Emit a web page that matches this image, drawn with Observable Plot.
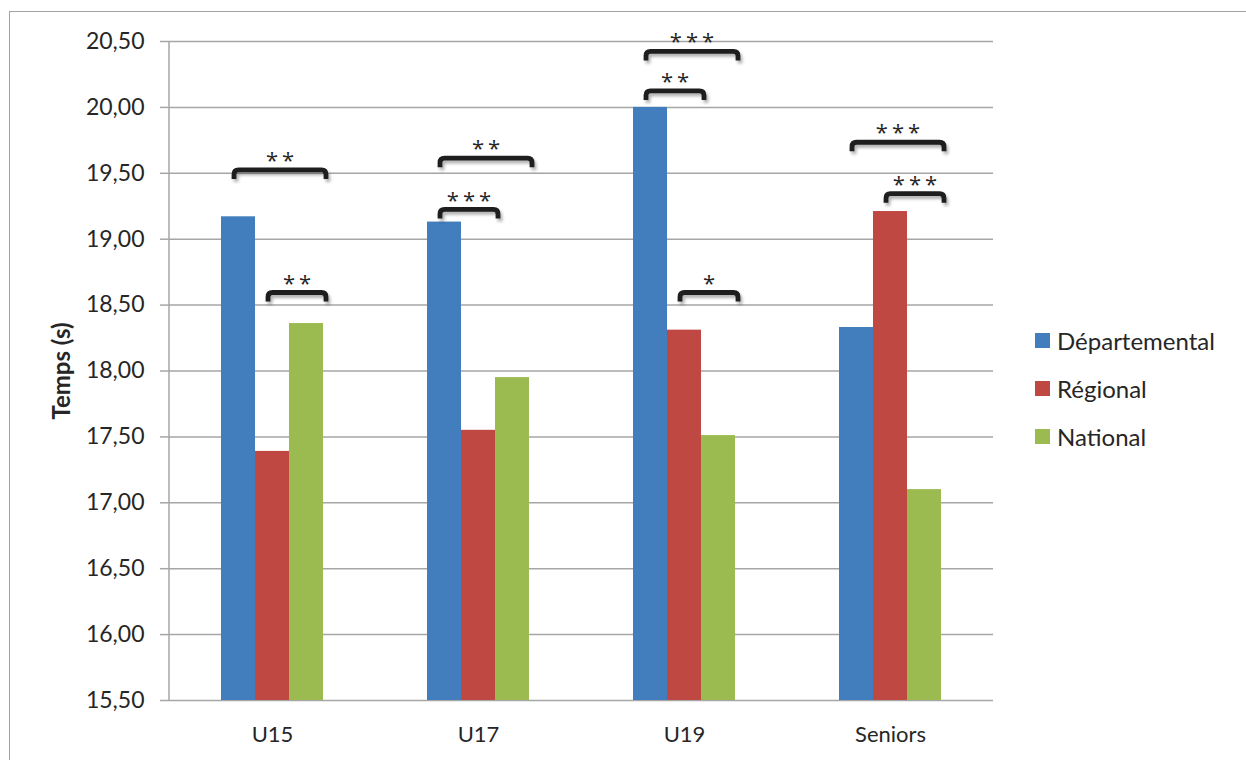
<!DOCTYPE html>
<html lang="fr">
<head>
<meta charset="utf-8">
<title>Temps par catégorie et niveau</title>
<script src="https://cdn.jsdelivr.net/npm/d3@7"></script>
<script src="https://cdn.jsdelivr.net/npm/@observablehq/plot@0.6"></script>
<style>
  html, body { margin: 0; padding: 0; background: #fff; overflow: hidden; }
  body { width: 1246px; height: 760px; position: relative; font-family: Lato, "Open Sans", sans-serif; color: #262626; }
  #frame { position: absolute; left: 9px; top: 11px; width: 1300px; height: 820px; border: 1.5px solid #a3a3a3; box-sizing: border-box; }
  #chart { position: absolute; left: 0; top: 0; }
  #legend { position: absolute; left: 1035px; top: 316px; }
  .item { display: flex; align-items: center; height: 48px; font-size: 24px; white-space: nowrap; }
  .swatch { width: 15px; height: 15px; margin-right: 7px; flex: none; }
</style>
</head>
<body>
<div id="frame"></div>
<div id="chart"></div>
<div id="legend"></div>
<script>
// Categories, levels and mean times (s)
const categories = ["U15", "U17", "U19", "Seniors"];
const series = ["Départemental", "Régional", "National"];
const departemental = [19.17, 19.13, 20.00, 18.33];
const regional = [17.39, 17.55, 18.31, 19.21];
const national = [18.36, 17.95, 17.51, 17.10];
const colors = ["#427dbd", "#c04843", "#9bbb50"];

// Value axis
const yTicks = [15.5, 16, 16.5, 17, 17.5, 18, 18.5, 19, 19.5, 20, 20.5];
const yMin = 15.5;
const yMax = 20.5;

// Significance brackets between levels within a category
const bracketCategory = ["U15", "U15", "U17", "U17", "U19", "U19", "U19", "Seniors", "Seniors"];
const bracketFrom = ["Départemental", "Régional", "Départemental", "Départemental", "Départemental", "Départemental", "Régional", "Départemental", "Régional"];
const bracketTo = ["National", "National", "National", "Régional", "National", "Régional", "National", "National", "National"];
const bracketLevel = [19.54, 18.61, 19.63, 19.24, 20.44, 20.14, 18.61, 19.75, 19.36];
const bracketStars = ["**", "**", "**", "***", "***", "**", "*", "***", "***"];

const valuesBySeries = [departemental, regional, national];
const data = categories.flatMap((category, i) =>
  series.map((s, j) => ({category, series: s, value: valuesBySeries[j][i]}))
);
const brackets = bracketCategory.map((category, i) => ({
  category, from: bracketFrom[i], to: bracketTo[i], level: bracketLevel[i], stars: bracketStars[i]
}));

const fmt = (d) => d.toFixed(2).replace(".", ",");

// Vertical line along the value axis (left edge of the first facet)
class AxisLine extends Plot.Mark {
  constructor(options = {}) {
    super([null], {}, options, {ariaLabel: "y-axis line"});
  }
  render(index, {y}, channels, {marginLeft}) {
    const [y0, y1] = y.range();
    return d3.create("svg:line")
      .attr("x1", marginLeft).attr("x2", marginLeft)
      .attr("y1", y0).attr("y2", y1)
      .attr("stroke", "#a6a6a6").attr("stroke-width", 1.5)
      .node();
  }
}

// Square brackets with stars linking two bars of the same group
class Brackets extends Plot.Mark {
  constructor(data, options = {}) {
    const {x1, x2, y, text} = options;
    super(data, {
      x1: {value: x1, scale: "x"},
      x2: {value: x2, scale: "x"},
      y: {value: y, scale: "y"},
      text: {value: text, filter: null}
    }, options, {ariaLabel: "bracket"});
  }
  render(index, {x}, {x1: X1, x2: X2, y: Y, text: T}) {
    const half = x.bandwidth() / 2;
    const w = 4.8, r = 4.5, legLength = 11.5;
    const g = d3.create("svg:g");
    const lines = g.append("g")
      .attr("style", "filter: drop-shadow(2px 3px 1.5px rgba(0,0,0,0.3))");
    const labels = g.append("g")
      .attr("font-family", "'Open Sans', 'DejaVu Sans', sans-serif")
      .attr("font-size", 22).attr("fill", "#262626")
      .attr("text-anchor", "middle").attr("letter-spacing", 4);
    for (const i of index) {
      const a = X1[i] + half - 4;
      const b = X2[i] + half + 20;
      const top = Y[i];
      const m = top + w / 2;
      const leg = top + legLength;
      lines.append("path")
        .attr("d", `M${a},${leg}V${m + r}Q${a},${m} ${a + r},${m}H${b - r}Q${b},${m} ${b},${m + r}V${leg}`)
        .attr("fill", "none").attr("stroke", "#1e1e1e").attr("stroke-width", w);
      labels.append("text")
        .attr("x", (a + b) / 2 + 2)
        .attr("y", top + 0.5)
        .text(T[i]);
    }
    return g.node();
  }
}

const chart = Plot.plot({
  width: 1010,
  height: 760,
  marginLeft: 169,
  marginRight: 17,
  marginTop: 41,
  marginBottom: 60,
  style: {fontFamily: "Lato, 'Open Sans', sans-serif", background: "transparent", overflow: "visible", color: "#262626"},
  fx: {domain: categories, padding: 0, label: null},
  x: {domain: series, paddingInner: 0, paddingOuter: 1.5, axis: null},
  y: {domain: [yMin, yMax]},
  color: {domain: series, range: colors},
  marks: [
    Plot.ruleY(yTicks, {stroke: "#a6a6a6", strokeWidth: 1.5}),
    Plot.axisY(yTicks, {
      tickSize: 9, tickPadding: 16, stroke: "#a6a6a6", strokeWidth: 1.5,
      fill: "#262626", fontSize: 23, tickFormat: fmt, label: null
    }),
    new AxisLine({fx: () => categories[0]}),
    Plot.axisFx({anchor: "bottom", tickSize: 0, tickPadding: 26, fontSize: 22, fill: "#262626", label: null}),
    Plot.text(["Temps (s)"], {
      fx: () => categories[0], frameAnchor: "left", textAnchor: "middle", dx: -107, rotate: -90,
      fontSize: 24, fontWeight: "bold", fill: "#262626"
    }),
    Plot.barY(data, {fx: "category", x: "series", y1: () => yMin, y2: "value", fill: "series"}),
    new Brackets(brackets, {fx: "category", x1: "from", x2: "to", y: "level", text: "stars"})
  ]
});
document.getElementById("chart").append(chart);

// Legend
const legend = d3.select("#legend");
series.forEach((s, i) => {
  const item = legend.append("div").attr("class", "item");
  item.append("div").attr("class", "swatch").style("background", colors[i]);
  item.append("span").text(s);
});
</script>
</body>
</html>
